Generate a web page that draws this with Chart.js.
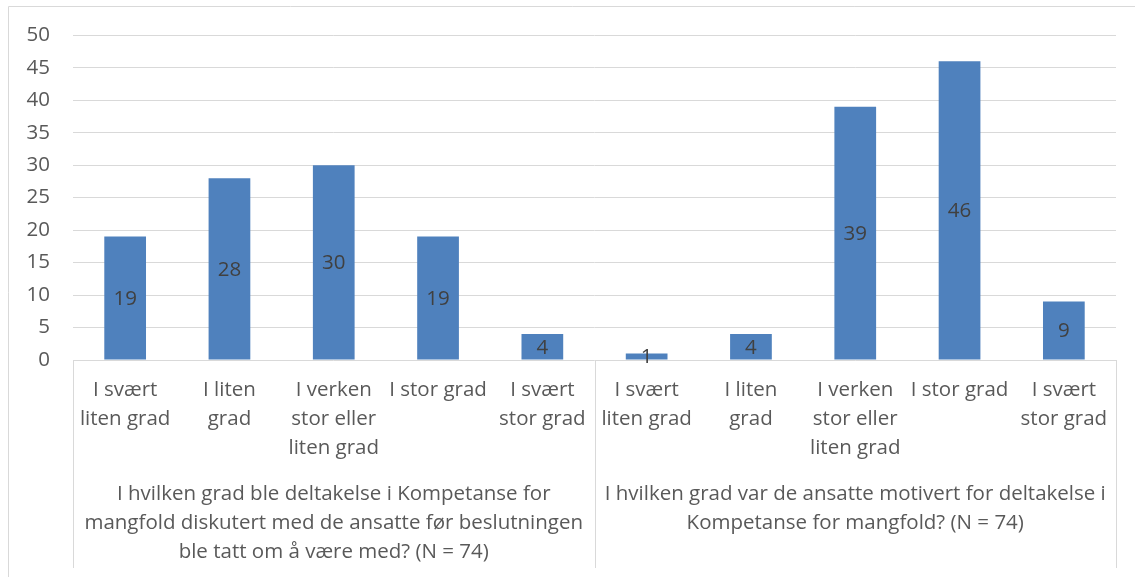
<!DOCTYPE html>
<html>
<head>
<meta charset="utf-8">
<script src="https://cdn.jsdelivr.net/npm/chart.js@4"></script>
<style>
  html, body { margin: 0; padding: 0; background: #fff; }
  #wrap { position: relative; width: 1135px; height: 577px; }
</style>
</head>
<body>
<div id="wrap"><canvas id="chart" width="1135" height="577"></canvas></div>
<script>
// categories (wrapped as in the original)
const categories = [
  ["I svært", "liten grad"],
  ["I liten", "grad"],
  ["I verken", "stor eller", "liten grad"],
  ["I stor grad"],
  ["I svært", "stor grad"],
  ["I svært", "liten grad"],
  ["I liten", "grad"],
  ["I verken", "stor eller", "liten grad"],
  ["I stor grad"],
  ["I svært", "stor grad"]
];
const groups = [
  ["I hvilken grad ble deltakelse i Kompetanse for",
   "mangfold diskutert med de ansatte før beslutningen",
   "ble tatt om å være med? (N = 74)"],
  ["I hvilken grad var de ansatte motivert for deltakelse i",
   "Kompetanse for mangfold? (N = 74)"]
];
const groupSize = 5;
const values = [19, 28, 30, 19, 4, 1, 4, 39, 46, 9];
const yTicks = [0, 5, 10, 15, 20, 25, 30, 35, 40, 45, 50];

const FONT = "'Open Sans', 'Noto Sans', sans-serif";
const FSIZE = 20.5;
const TXT = "#595959";
const GRID = "#d9d9d9";

// outer frame
const framePlugin = {
  id: "frame",
  beforeDraw(chart) {
    const ctx = chart.ctx;
    ctx.save();
    ctx.strokeStyle = GRID;
    ctx.lineWidth = 1;
    ctx.beginPath();
    ctx.moveTo(8.5, 600);
    ctx.lineTo(8.5, 6.5);
    ctx.lineTo(1140, 6.5);
    ctx.stroke();
    ctx.restore();
  }
};

// value labels inside bars
const valueLabels = {
  id: "valueLabels",
  afterDatasetsDraw(chart) {
    const ctx = chart.ctx;
    const meta = chart.getDatasetMeta(0);
    ctx.save();
    ctx.font = FSIZE + "px " + FONT;
    ctx.fillStyle = "#404040";
    ctx.textAlign = "center";
    ctx.textBaseline = "middle";
    meta.data.forEach((bar, i) => {
      ctx.fillText(String(values[i]), bar.x, (bar.y + bar.base) / 2 + 1);
    });
    ctx.restore();
  }
};

// two-level category axis
const catAxis = {
  id: "catAxis",
  afterDraw(chart) {
    const ctx = chart.ctx;
    const x = chart.scales.x;
    const area = chart.chartArea;
    const step = x.getPixelForValue(1) - x.getPixelForValue(0);
    const bottom = 568;
    ctx.save();
    ctx.strokeStyle = GRID;
    ctx.lineWidth = 1;
    // separators
    for (let g = 0; g <= groups.length; g++) {
      const px = Math.round(x.getPixelForValue(g * groupSize) - step / 2) + 0.5;
      ctx.beginPath();
      ctx.moveTo(px, area.bottom);
      ctx.lineTo(px, bottom);
      ctx.stroke();
    }
    ctx.font = FSIZE + "px " + FONT;
    ctx.fillStyle = TXT;
    ctx.textAlign = "center";
    ctx.textBaseline = "middle";
    categories.forEach((lines, i) => {
      const cx = x.getPixelForValue(i);
      lines.forEach((t, k) => ctx.fillText(t, cx, 390 + k * 29));
    });
    groups.forEach((lines, g) => {
      const x0 = x.getPixelForValue(g * groupSize) - step / 2;
      const x1 = x.getPixelForValue(g * groupSize + groupSize - 1) + step / 2;
      const cx = (x0 + x1) / 2;
      lines.forEach((t, k) => ctx.fillText(t, cx, 494 + k * 29));
    });
    ctx.restore();
  }
};

new Chart(document.getElementById("chart"), {
  type: "bar",
  data: {
    labels: categories.map(l => l.join(" ")),
    datasets: [{
      data: values,
      backgroundColor: "#4f81bd",
      barPercentage: 0.4,
      categoryPercentage: 1.0
    }]
  },
  options: {
    responsive: false,
    animation: false,
    layout: { padding: { top: 35, right: 19, bottom: 209, left: 0 } },
    plugins: { legend: { display: false }, tooltip: { enabled: false } },
    scales: {
      x: {
        ticks: { display: false },
        grid: { display: false },
        border: { display: false }
      },
      y: {
        min: 0,
        max: 50,
        afterBuildTicks(scale) { scale.ticks = yTicks.map(v => ({ value: v })); },
        afterFit(scale) { scale.width = 73; },
        ticks: { color: TXT, font: { size: FSIZE, family: FONT }, padding: 23 },
        grid: { color: GRID, drawTicks: false },
        border: { display: false }
      }
    }
  },
  plugins: [framePlugin, valueLabels, catAxis]
});
</script>
</body>
</html>
